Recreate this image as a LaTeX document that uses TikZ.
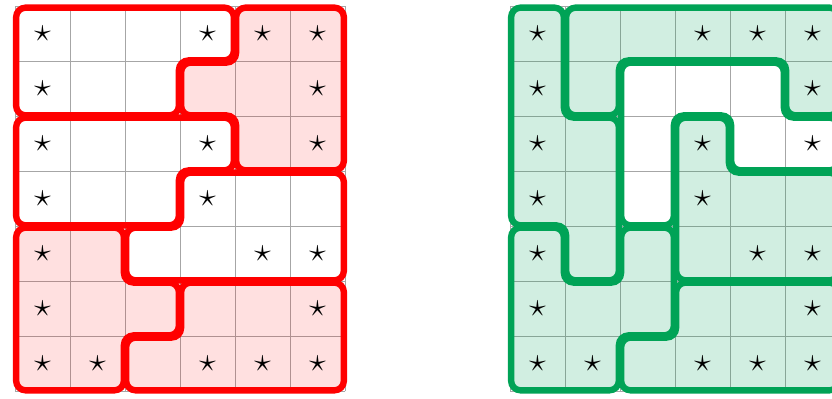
\documentclass[tikz,border=0pt]{standalone}

\definecolor{puzred}{RGB}{255,0,0}
\definecolor{puzgreen}{RGB}{0,163,86}

\begin{document}
\begin{tikzpicture}[
    cellgrid/.style={draw=black!35, line width=0.5pt},
    region/.style={line width=3.3pt, rounded corners=5pt},
    redregion/.style={region, draw=puzred},
    pinkregion/.style={redregion, fill=puzred, fill opacity=0.12},
    greenregion/.style={region, draw=puzgreen},
    mintregion/.style={greenregion, fill=puzgreen, fill opacity=0.18},
    starmark/.style={font=\LARGE, inner sep=0pt}
]
    % Inset of a region outline from the cell edges
    \def\e{0.02}
    \useasboundingbox (-0.273,-0.136) rectangle (14.855,7.118);

    % Draw the two grids
    \draw[cellgrid] (0,0) grid (6,7);
    \draw[cellgrid] (9,0) grid (15,7);

    % Left puzzle: red regions
    \draw[redregion] (\e,7-\e) -- (4-\e,7-\e) -- (4-\e,6+\e) -- (3-\e,6+\e)
        -- (3-\e,5+\e) -- (\e,5+\e) -- cycle;
    \filldraw[pinkregion] (4+\e,7-\e) -- (6-\e,7-\e) -- (6-\e,4+\e) -- (4+\e,4+\e)
        -- (4+\e,5+\e) -- (3+\e,5+\e) -- (3+\e,6-\e) -- (4+\e,6-\e) -- cycle;
    \draw[redregion] (\e,5-\e) -- (4-\e,5-\e) -- (4-\e,4+\e) -- (3-\e,4+\e)
        -- (3-\e,3+\e) -- (\e,3+\e) -- cycle;
    \draw[redregion] (3+\e,4-\e) -- (6-\e,4-\e) -- (6-\e,2+\e) -- (2+\e,2+\e)
        -- (2+\e,3-\e) -- (3+\e,3-\e) -- cycle;
    \filldraw[pinkregion] (\e,3-\e) -- (2-\e,3-\e) -- (2-\e,2-\e) -- (3-\e,2-\e)
        -- (3-\e,1+\e) -- (2-\e,1+\e) -- (2-\e,\e) -- (\e,\e) -- cycle;
    \filldraw[pinkregion] (3+\e,2-\e) -- (6-\e,2-\e) -- (6-\e,\e) -- (2+\e,\e)
        -- (2+\e,1-\e) -- (3+\e,1-\e) -- cycle;

    % Right puzzle: green regions
    \begin{scope}[xshift=9cm]
        \filldraw[mintregion] (\e,7-\e) -- (1-\e,7-\e) -- (1-\e,5-\e) -- (2-\e,5-\e)
            -- (2-\e,2+\e) -- (1+\e,2+\e) -- (1+\e,3+\e) -- (\e,3+\e) -- cycle;
        \filldraw[mintregion] (1+\e,7-\e) -- (6-\e,7-\e) -- (6-\e,5+\e) -- (5+\e,5+\e)
            -- (5+\e,6+\e) -- (2-\e,6+\e) -- (2-\e,5+\e) -- (1+\e,5+\e) -- cycle;
        \draw[greenregion] (2+\e,6-\e) -- (5-\e,6-\e) -- (5-\e,5-\e) -- (6-\e,5-\e)
            -- (6-\e,4+\e) -- (4+\e,4+\e) -- (4+\e,5+\e) -- (3-\e,5+\e)
            -- (3-\e,3+\e) -- (2+\e,3+\e) -- cycle;
        \filldraw[mintregion] (3+\e,5-\e) -- (4-\e,5-\e) -- (4-\e,4-\e) -- (6-\e,4-\e)
            -- (6-\e,2+\e) -- (3+\e,2+\e) -- cycle;
        \filldraw[mintregion] (\e,3-\e) -- (1-\e,3-\e) -- (1-\e,2-\e) -- (2+\e,2-\e)
            -- (2+\e,3-\e) -- (3-\e,3-\e) -- (3-\e,1+\e) -- (2-\e,1+\e)
            -- (2-\e,\e) -- (\e,\e) -- cycle;
        \filldraw[mintregion] (3+\e,2-\e) -- (6-\e,2-\e) -- (6-\e,\e) -- (2+\e,\e)
            -- (2+\e,1-\e) -- (3+\e,1-\e) -- cycle;
    \end{scope}

    % Place the stars in both grids
    \foreach \g in {0,9} {
        \foreach \c/\r in {1/1,4/1,5/1,6/1, 1/2,6/2, 1/3,4/3,6/3, 1/4,4/4,
                           1/5,5/5,6/5, 1/6,6/6, 1/7,2/7,4/7,5/7,6/7}
            \node[starmark] (s\g-\c-\r) at (\g+\c-0.5, 7.5-\r) {$\star$};
    }

\end{tikzpicture}
\end{document}
